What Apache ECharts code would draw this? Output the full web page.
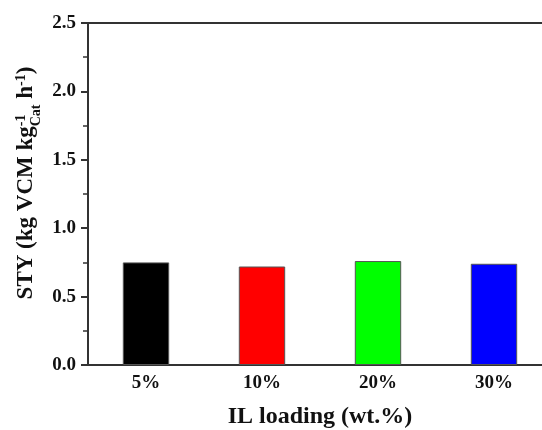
<!DOCTYPE html>
<html><head><meta charset="utf-8">
<script src="https://cdn.jsdelivr.net/npm/echarts@6/dist/echarts.min.js"></script>
<style>html,body{margin:0;padding:0;background:#fff}#c{width:542px;height:430px}</style>
</head><body><div id="c"></div>
<script>
const categories = ['5%', '10%', '20%', '30%'];
const styValues = [0.75, 0.72, 0.76, 0.74];
const barColors = ['#000000', '#ff0000', '#00ff00', '#0000ff'];
const yTicks = [0, 0.5, 1.0, 1.5, 2.0, 2.5];

const font = 'Liberation Serif';
const txtColor = '#111';

// Build y-axis title with stacked sub/superscripts
const ctx = document.createElement('canvas').getContext('2d');
function w(t, size) { ctx.font = 'bold ' + size + 'px "' + font + '"'; return ctx.measureText(t).width; }
const M = 23, S = 14;
const pieces = [];
let x = 0;
function add(t, size, dy, advance) {
  pieces.push({ t, size, x, dy });
  if (advance) x += w(t, size);
}
add('STY (kg VCM kg', M, 0, true);
const cx = x;
add('-1', S, -10, false);
add('Cat', S, 5, true);
x = Math.max(x, cx + w('-1', S));
add(' h', M, 0, true);
add('-1', S, -10, true);
add(')', M, 0, true);
const total = x;
const titleChildren = pieces.map(p => ({
  type: 'text', x: p.x - total / 2, y: p.dy,
  style: { text: p.t, fontFamily: font, fontWeight: 'bold', fontSize: p.size, fill: txtColor,
    textAlign: 'left', textVerticalAlign: 'bottom', verticalAlign: 'bottom' }
}));

const chart = echarts.init(document.getElementById('c'));
chart.setOption({
  animation: false,
  backgroundColor: '#fff',
  grid: { left: 88, width: 464, top: 23, height: 342, outerBoundsMode: 'none', containLabel: false,
    show: true, borderColor: '#333', borderWidth: 2, backgroundColor: 'transparent' },
  xAxis: {
    type: 'category', data: categories,
    axisLine: { lineStyle: { color: '#333', width: 2 } },
    axisTick: { show: false },
    axisLabel: { fontFamily: font, fontWeight: 'bold', fontSize: 19, color: txtColor, margin: 9 },
    name: 'IL loading (wt.%)', nameLocation: 'middle', nameGap: 40,
    nameTextStyle: { fontFamily: font, fontWeight: 'bold', fontSize: 24, color: txtColor }
  },
  yAxis: {
    type: 'value', min: 0, max: 2.5, interval: 0.5,
    axisLine: { show: true, lineStyle: { color: '#333', width: 2 } },
    axisTick: { show: true, length: 7, lineStyle: { width: 2, color: '#333' } },
    minorTick: { show: true, splitNumber: 2, length: 5, lineStyle: { width: 1.5, color: '#333' } },
    splitLine: { show: false },
    axisLabel: { fontFamily: font, fontWeight: 'bold', fontSize: 19, color: txtColor, margin: 12,
      formatter: v => v.toFixed(1) }
  },
  graphic: [{
    type: 'group', x: 38, y: 183, rotation: Math.PI / 2,
    children: titleChildren
  }],
  series: [{
    type: 'bar', barWidth: '40%',
    data: styValues.map((v, i) => ({ value: v, itemStyle: { color: barColors[i] } })),
    itemStyle: { borderColor: '#555', borderWidth: 1 }
  }]
});
</script></body></html>
